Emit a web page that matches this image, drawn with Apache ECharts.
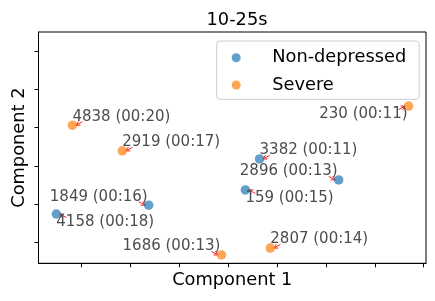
<!DOCTYPE html>
<html>
<head>
<meta charset="utf-8">
<script src="https://cdn.jsdelivr.net/npm/echarts@6/dist/echarts.min.js"></script>
<style>
html,body{margin:0;padding:0;background:#fff;}
#chart{width:435px;height:301px;}
</style>
</head>
<body>
<div id="chart"></div>
<script>
// ---- data (arbitrary PCA units, ticks at integers) ----
var titleText = '10-25s';
var xName = 'Component 1';
var yName = 'Component 2';
var seriesNames = ['Non-depressed', 'Severe'];

var nonDepLabels = ['3382 (00:11)', '2896 (00:13)', '159 (00:15)', '1849 (00:16)', '4158 (00:18)'];
var nonDepX = [4.64, 6.26, 4.35, 2.37, 0.48];
var nonDepY = [3.18, 2.63, 2.37, 1.97, 1.74];

var severeLabels = ['4838 (00:20)', '230 (00:11)', '2919 (00:17)', '1686 (00:13)', '2807 (00:14)'];
var severeX = [0.81, 7.69, 1.83, 3.86, 4.86];
var severeY = [4.06, 4.56, 3.39, 0.67, 0.85];

var xTicks = [1, 2, 3, 4, 5, 6, 7, 8];
var yTicks = [1, 2, 3, 4, 5, 6];

// ---- layout of annotations (not data) ----
// h: 'L' text starts at point (to the right), 'R' text ends at point (to the left)
// v: 'A' above, 'B' below
var nonDepPlace = [['L','A'], ['R','A'], ['L','B'], ['R','A'], ['L','B']];
var severePlace = [['L','A'], ['R','B'], ['L','A'], ['R','A'], ['L','A']];

var FONT = '"DejaVu Sans", sans-serif';
var annData = [];
function addAnn(xs, ys, labels, place) {
  for (var i = 0; i < xs.length; i++) {
    annData.push({ value: [xs[i], ys[i]], label: labels[i], h: place[i][0], v: place[i][1] });
  }
}
addAnn(nonDepX, nonDepY, nonDepLabels, nonDepPlace);
addAnn(severeX, severeY, severeLabels, severePlace);

function zip(a, b) { return a.map(function (v, i) { return [v, b[i]]; }); }

var chart = echarts.init(document.getElementById('chart'), null, { renderer: 'canvas' });

var option = {
  animation: false,
  backgroundColor: '#fff',
  title: {
    text: titleText,
    left: 232, textAlign: 'center',
    top: 6,
    textStyle: { fontFamily: FONT, fontSize: 17.8, fontWeight: 'normal', color: '#000' }
  },
  grid: {
    left: 38.5, right: 9, top: 32, bottom: 37.7,
    show: true, borderColor: '#000', borderWidth: 1, backgroundColor: 'transparent'
  },
  legend: {
    orient: 'vertical',
    left: 216.7, top: 41,
    padding: [6.7, 13, 4.3, 15],
    itemGap: 7.3,
    itemWidth: 20, itemHeight: 9,
    icon: 'circle',
    borderColor: '#cccccc', borderWidth: 1, borderRadius: 3,
    backgroundColor: 'rgba(255,255,255,0.8)',
    textStyle: { fontFamily: FONT, fontSize: 17.8, color: '#000', lineHeight: 20, padding: [0, 0, 0, 21] },
    data: seriesNames
  },
  xAxis: {
    type: 'value', min: 0.115, max: 8.047,
    name: xName, nameLocation: 'middle', nameGap: 8,
    nameTextStyle: { fontFamily: FONT, fontSize: 17.8, color: '#000' },
    axisLine: { show: true, lineStyle: { color: '#000', width: 1 } },
    axisTick: { show: true, length: 4, customValues: xTicks, lineStyle: { color: '#000', width: 1 } },
    axisLabel: { show: false },
    splitLine: { show: false }
  },
  yAxis: {
    type: 'value', min: 0.451, max: 6.497,
    name: yName, nameLocation: 'middle', nameGap: 10,
    nameTextStyle: { fontFamily: FONT, fontSize: 17.8, color: '#000' },
    axisLine: { show: true, lineStyle: { color: '#000', width: 1 } },
    axisTick: { show: true, length: 4, customValues: yTicks, lineStyle: { color: '#000', width: 1 } },
    axisLabel: { show: false },
    splitLine: { show: false }
  },
  series: [
    {
      name: 'arrows', type: 'custom', z: 1, silent: true,
      data: annData,
      renderItem: function (params, api) {
        var d = annData[params.dataIndex];
        var p = api.coord([api.value(0), api.value(1)]);
        var sx = d.h === 'L' ? 1 : -1;
        var sy = d.v === 'A' ? -1 : 1;
        var tip = [p[0] + sx * 3.5, p[1]];
        var tail = [p[0] + sx * 10, p[1] + sy * 3.5];
        var ang = Math.atan2(tail[1] - tip[1], tail[0] - tip[0]);
        var hl = 4.5, ha = 0.5;
        var h1 = [tip[0] + hl * Math.cos(ang + ha), tip[1] + hl * Math.sin(ang + ha)];
        var h2 = [tip[0] + hl * Math.cos(ang - ha), tip[1] + hl * Math.sin(ang - ha)];
        var st = { stroke: '#ff0000', lineWidth: 0.9, fill: null };
        return {
          type: 'group',
          children: [
            { type: 'polyline', shape: { points: [tail, tip] }, style: st },
            { type: 'polyline', shape: { points: [h1, tip, h2] }, style: st }
          ]
        };
      }
    },
    {
      name: seriesNames[0], type: 'scatter', z: 2,
      symbol: 'circle', symbolSize: 9.5,
      itemStyle: { color: '#1f77b4', opacity: 0.7 },
      data: zip(nonDepX, nonDepY)
    },
    {
      name: seriesNames[1], type: 'scatter', z: 2,
      symbol: 'circle', symbolSize: 9.5,
      itemStyle: { color: '#ff7f0e', opacity: 0.7 },
      data: zip(severeX, severeY)
    },
    {
      name: 'labels', type: 'custom', z: 3, silent: true,
      data: annData,
      renderItem: function (params, api) {
        var d = annData[params.dataIndex];
        var p = api.coord([api.value(0), api.value(1)]);
        var dx = d.h === 'L' ? 0 : -1;
        var dy = d.v === 'A' ? -8.5 : 8;
        return {
          type: 'text',
          x: p[0] + dx, y: p[1] + dy,
          style: {
            text: d.label,
            fontFamily: FONT, fontSize: 15,
            fill: '#4d4d4d',
            align: d.h === 'L' ? 'left' : 'right',
            verticalAlign: 'middle'
          }
        };
      }
    }
  ]
};
chart.setOption(option);
</script>
</body>
</html>
